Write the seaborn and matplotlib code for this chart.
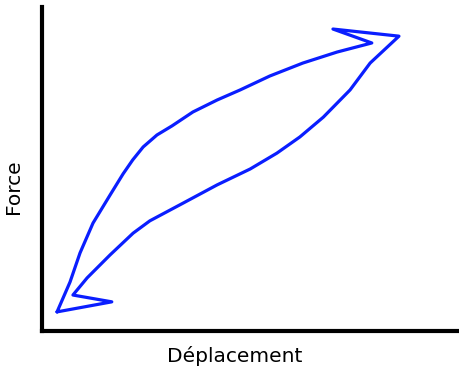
import matplotlib
matplotlib.use("Agg")
import matplotlib.pyplot as plt
import pandas as pd
import seaborn as sns

# Hysteresis loop: loading branch (upper) then unloading branch (lower)
displacement = [0.36, 0.67, 0.91, 1.22, 1.63, 1.94, 2.17, 2.42, 2.75, 3.11, 3.61,
                4.19, 4.74, 5.45, 6.24, 7.06, 7.89, 6.96, 8.54,
                7.85, 7.37, 6.73, 6.17, 5.62, 4.98, 4.19, 3.38, 2.58, 2.18,
                1.63, 1.08, 0.74, 1.67, 0.36]
force = [0.59, 1.51, 2.41, 3.33, 4.20, 4.85, 5.28, 5.68, 6.05, 6.33, 6.76,
         7.13, 7.44, 7.87, 8.27, 8.61, 8.89, 9.32, 9.10,
         8.27, 7.44, 6.60, 5.99, 5.49, 5.00, 4.51, 3.95, 3.40, 3.02,
         2.35, 1.64, 1.11, 0.90, 0.59]

x_label = "Déplacement"
y_label = "Force"

df = pd.DataFrame({"d": displacement, "f": force})

sns.set_style("white")
plt.rcParams["font.family"] = ["DejaVu Sans"]

fig = plt.figure(figsize=(4.6, 3.71), dpi=100)
ax = fig.add_axes([42 / 460, 40 / 371, 418 / 460, 324 / 371])

sns.lineplot(data=df, x="d", y="f", sort=False, estimator=None,
             color="#0a1eff", linewidth=2.3, ax=ax)
ax.lines[0].set_solid_joinstyle("round")
ax.lines[0].set_solid_capstyle("round")

ax.set_xlim(0, 10)
ax.set_ylim(0, 10)
ax.set_xticks([])
ax.set_yticks([])
for side in ("top", "right"):
    ax.spines[side].set_visible(False)
for side in ("left", "bottom"):
    ax.spines[side].set_color("black")
    ax.spines[side].set_linewidth(3)

ax.set_xlabel(x_label, fontsize=14.5, color="black")
ax.set_ylabel(y_label, fontsize=14.5, color="black")
ax.xaxis.set_label_coords(0.462, -0.045)
ax.yaxis.set_label_coords(-0.045, 0.444)

fig.savefig("out.png", dpi=100)
